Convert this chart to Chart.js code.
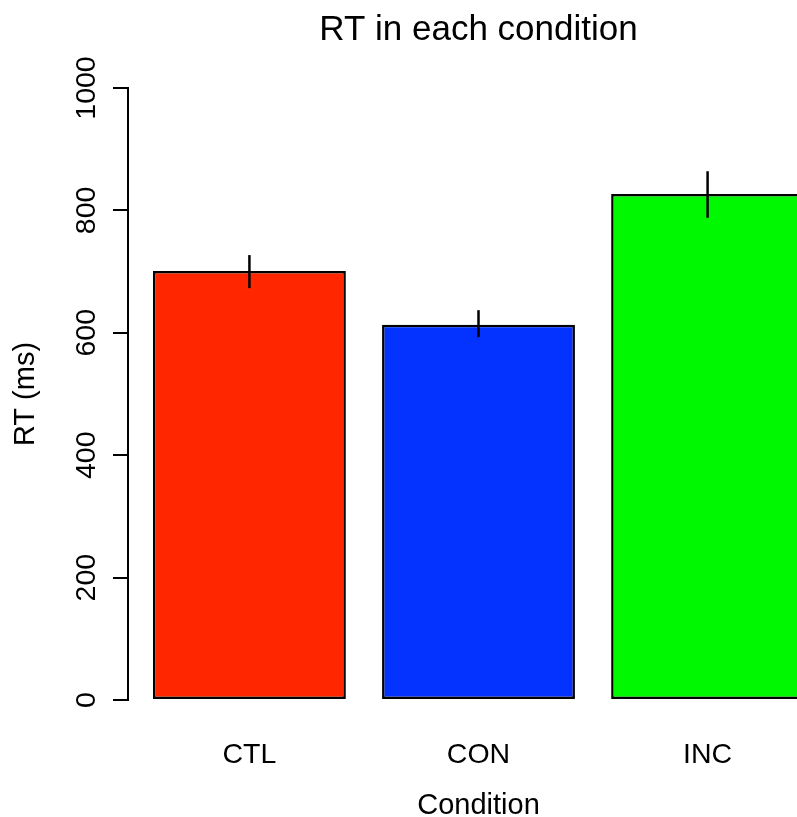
<!DOCTYPE html>
<html><head><meta charset="utf-8">
<script src="https://cdn.jsdelivr.net/npm/chart.js@4/dist/chart.umd.min.js"></script>
<style>html,body{margin:0;padding:0;overflow:hidden;background:#fff;width:797px;height:817px}canvas{display:block}</style>
</head><body>
<canvas id="c" width="860" height="840"></canvas>
<script>
const categories = ['CTL', 'CON', 'INC'];
const meanRT = [701, 613, 827];
const errLow = [673, 593, 788];
const errHigh = [727, 637, 864];
const yTicks = [0, 200, 400, 600, 800, 1000];
const barColors = ['#FF2600', '#0433FF', '#00F900'];

Chart.defaults.font.family = "'Liberation Sans', Arial, Helvetica, sans-serif";
Chart.defaults.color = '#000';

const errorBars = {
  id: 'errorBars',
  afterDatasetsDraw(chart) {
    const {ctx, scales: {x, y}} = chart;
    ctx.save();
    ctx.strokeStyle = '#000';
    ctx.lineWidth = 2.5;
    categories.forEach((c, i) => {
      const px = x.getPixelForValue(i + 1);
      ctx.beginPath();
      ctx.moveTo(px, y.getPixelForValue(errLow[i]));
      ctx.lineTo(px, y.getPixelForValue(errHigh[i]));
      ctx.stroke();
    });
    ctx.restore();
  }
};

new Chart(document.getElementById('c'), {
  type: 'bar',
  data: {
    datasets: [{
      data: meanRT.map((v, i) => ({x: i + 1, y: v})),
      backgroundColor: barColors,
      borderColor: '#000',
      borderWidth: 2.5,
      borderSkipped: false,
      categoryPercentage: 1,
      barPercentage: 0.842,
      clip: 4
    }]
  },
  options: {
    responsive: false,
    animation: false,
    layout: {padding: {left: 0, right: 31, top: 0, bottom: 0}},
    plugins: {
      legend: {display: false},
      tooltip: {enabled: false},
      title: {
        display: true, text: 'RT in each condition', fullSize: false,
        font: {size: 35, weight: 'normal'}, color: '#000',
        padding: {top: 9, bottom: 37}
      }
    },
    scales: {
      x: {
        type: 'linear', min: 0.47, max: 3.53, offset: false,
        grid: {display: false, offset: false}, border: {display: false},
        afterBuildTicks: s => { s.ticks = categories.map((c, i) => ({value: i + 1})); },
        ticks: {autoSkip: false, maxRotation: 0, minRotation: 0, padding: 30,
          font: {size: 28.5}, color: '#000', callback: v => categories[v - 1]},
        title: {display: true, text: 'Condition', font: {size: 29}, color: '#000',
          padding: {top: 0, bottom: 17}},
        afterFit: s => { s.height = 140; }
      },
      y: {
        min: 0, max: 1000,
        afterBuildTicks: s => { s.ticks = yTicks.map(v => ({value: v})); },
        grid: {drawOnChartArea: false, drawTicks: true, tickLength: 15, color: '#000', lineWidth: 2},
        border: {display: true, color: '#000', width: 2},
        ticks: {minRotation: 90, maxRotation: 90, crossAlign: 'center', padding: -6,
          font: {size: 28.5}, color: '#000', callback: v => String(v)},
        title: {display: true, text: 'RT (ms)', font: {size: 29}, color: '#000',
          padding: {top: 9, bottom: 0}},
        afterFit: s => { s.width = 128; }
      }
    }
  },
  plugins: [errorBars]
});
</script>
</body></html>
